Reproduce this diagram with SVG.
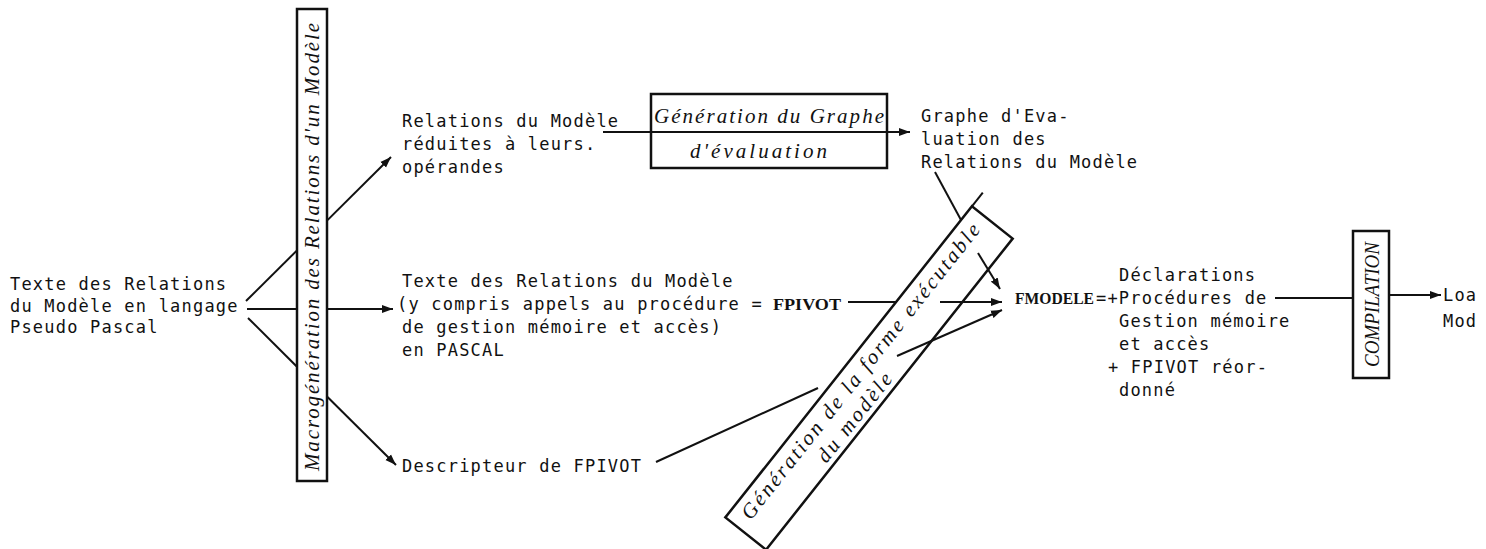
<svg xmlns="http://www.w3.org/2000/svg" width="1486" height="549" viewBox="0 0 1486 549">
<defs>
<marker id="ah" markerUnits="userSpaceOnUse" markerWidth="12" markerHeight="9" refX="11" refY="4.5" orient="auto">
<path d="M0,0.5 L11,4.5 L0,8.5 z" fill="#111"/>
</marker>
<style>
.t{font-family:"DejaVu Sans Mono","Liberation Mono",monospace;font-size:17px;letter-spacing:1.2px;fill:#111}
.s{font-family:"Liberation Serif","DejaVu Serif",serif;letter-spacing:0;font-weight:bold}
.it{font-family:"Liberation Serif","DejaVu Serif",serif;font-style:italic;font-size:21px;fill:#111}
.box{fill:#fff;stroke:#111;stroke-width:2.5}
.c{fill:none;stroke:#111;stroke-width:2}
.a{marker-end:url(#ah)}
</style>
</defs>
<rect width="1486" height="549" fill="#fff"/>

<g id="n-source">
<text class="t" x="10" y="290">Texte des Relations</text>
<text class="t" x="10" y="311.5">du Modèle en langage</text>
<text class="t" x="10" y="333">Pseudo Pascal</text>
</g>

<g id="n-macro">
<rect class="box" x="297" y="9" width="30" height="472"/>
<text class="it" transform="translate(319,247) rotate(-90)" text-anchor="middle" textLength="448" lengthAdjust="spacing">Macrogénération des Relations d'un Modèle</text>
</g>

<g id="n-reduites">
<text class="t" x="402" y="127">Relations du Modèle</text>
<text class="t" x="402" y="150">réduites à leurs.</text>
<text class="t" x="402" y="173">opérandes</text>
</g>

<g id="n-gengraphe">
<rect class="box" x="651" y="94" width="236" height="74"/>
<text class="it" x="654" y="123" textLength="230" lengthAdjust="spacing">Génération du Graphe</text>
<text class="it" x="690" y="158" textLength="137" lengthAdjust="spacing">d'évaluation</text>
</g>

<g id="n-graphe">
<text class="t" x="921" y="122">Graphe d'Eva-</text>
<text class="t" x="921" y="145">luation des</text>
<text class="t" x="921" y="167.5">Relations du Modèle</text>
</g>

<g id="n-texte">
<text class="t" x="402" y="287">Texte des Relations du Modèle</text>
<text class="t" x="397" y="310">(y compris appels au procédure = </text>
<text class="t s" x="773" y="310" font-size="19" textLength="68" lengthAdjust="spacingAndGlyphs">FPIVOT</text>
<text class="t" x="402" y="333">de gestion mémoire et accès)</text>
<text class="t" x="402" y="356">en PASCAL</text>
</g>

<g id="n-descripteur">
<text class="t" x="402" y="471.5">Descripteur de FPIVOT</text>
</g>

<g id="n-genexec">
<g transform="translate(869,378) rotate(-51.6)">
<rect class="box" x="-198.5" y="-26" width="397" height="52"/>
<line class="c" x1="198.5" y1="-26" x2="216" y2="-26" stroke-width="2.5"/>
<text class="it" x="0" y="-4" text-anchor="middle" textLength="371" lengthAdjust="spacing">Génération de la forme exécutable</text>
<text class="it" x="-40" y="20" text-anchor="middle" textLength="108" lengthAdjust="spacing">du modèle</text>
</g>
</g>

<g id="n-fmodele">
<text class="t s" x="1015" y="304" font-size="20" textLength="79" lengthAdjust="spacingAndGlyphs">FMODELE</text>
</g>

<g id="n-composition">
<text class="t" x="1119" y="281">Déclarations</text>
<text class="t" x="1096" y="303.5">=+Procédures de</text>
<text class="t" x="1119" y="326.5">Gestion mémoire</text>
<text class="t" x="1119" y="350">et accès</text>
<text class="t" x="1108" y="373">+ FPIVOT réor-</text>
<text class="t" x="1119" y="396">donné</text>
</g>

<g id="n-compilation">
<rect class="box" x="1353" y="231" width="36" height="147"/>
<text class="it" transform="translate(1379,304.5) rotate(-90)" text-anchor="middle" font-size="21" textLength="125" lengthAdjust="spacingAndGlyphs">COMPILATION</text>
</g>

<g id="n-load">
<text class="t" x="1443" y="301">Loa</text>
<text class="t" x="1443" y="327">Mod</text>
</g>

<g id="connectors">
<line class="c" x1="246" y1="301" x2="297" y2="250.4"/>
<line class="c a" x1="327" y1="220.6" x2="391" y2="157"/>
<line class="c" x1="247" y1="309" x2="297" y2="309"/>
<line class="c a" x1="327" y1="309" x2="393" y2="309"/>
<line class="c" x1="248" y1="318" x2="297" y2="366.7"/>
<line class="c a" x1="327" y1="396.5" x2="396" y2="465"/>
<line class="c a" x1="603" y1="132" x2="910" y2="132"/>
<line class="c" x1="935" y1="172" x2="961" y2="220"/>
<line class="c a" x1="978" y1="253" x2="1000" y2="289"/>
<line class="c" x1="848" y1="302" x2="896" y2="302"/>
<line class="c a" x1="940" y1="302" x2="1002" y2="302"/>
<line class="c" x1="656" y1="462" x2="818" y2="388"/>
<line class="c a" x1="897" y1="356" x2="1002" y2="310"/>
<line class="c" x1="1275" y1="298" x2="1353" y2="298"/>
<line class="c a" x1="1389" y1="295" x2="1441" y2="295"/>
</g>
</svg>
